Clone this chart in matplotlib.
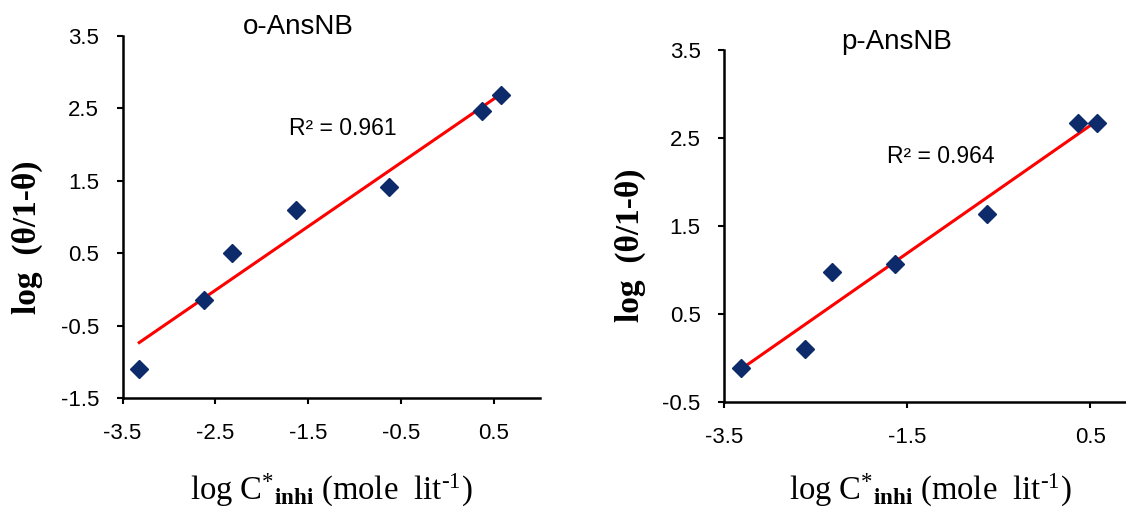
"""Langmuir-type plots of log(theta/1-theta) vs log C for o-AnsNB and p-AnsNB."""
import numpy as np
import matplotlib
matplotlib.use('Agg')
import matplotlib.pyplot as plt

plt.rcParams['font.family'] = ['Liberation Sans', 'DejaVu Sans']
plt.rcParams['mathtext.fontset'] = 'custom'
plt.rcParams['mathtext.rm'] = 'Liberation Serif'
plt.rcParams['mathtext.it'] = 'Liberation Serif:italic'
plt.rcParams['mathtext.bf'] = 'Liberation Serif:bold'

# Data
log_conc = [-3.32, -2.62, -2.32, -1.63, -0.63, 0.37, 0.58]
log_theta_o = [-1.10, -0.14, 0.50, 1.10, 1.41, 2.46, 2.68]
log_theta_p = [-0.12, 0.10, 0.97, 1.07, 1.64, 2.67, 2.67]
titles = ["o-AnsNB", "p-AnsNB"]
r2_labels = ["R² = 0.961", "R² = 0.964"]
yticks_o = [-1.5, -0.5, 0.5, 1.5, 2.5, 3.5]
yticks_p = [-0.5, 0.5, 1.5, 2.5, 3.5]
xticks_o = [-3.5, -2.5, -1.5, -0.5, 0.5]
xticks_p = [-3.5, -1.5, 0.5]

marker_color = '#0D2B6B'
line_color = '#FF0000'

fig = plt.figure(figsize=(11.26, 5.07), dpi=100)

# axes positions in figure fraction (left, bottom, width, height)
ax_o = fig.add_axes([0.1088, 0.2150, 0.3712, 0.7140])
ax_p = fig.add_axes([0.6433, 0.2077, 0.3655, 0.6937])

panels = [
    (ax_o, log_theta_o, yticks_o, xticks_o, (-1.5, 3.5), (-1.13, 2.22)),
    (ax_p, log_theta_p, yticks_p, xticks_p, (-0.5, 3.5), (-1.13, 2.29)),
]

for i, (ax, ys, yt, xt, ylim, r2pos) in enumerate(panels):
    x = np.array(log_conc)
    y = np.array(ys)
    ax.plot(x, y, 'D', color=marker_color, markersize=9, zorder=3)
    # linear trendline
    slope, intercept = np.polyfit(x, y, 1)
    xf = np.array([x.min(), x.max()])
    ax.plot(xf, slope * xf + intercept, color=line_color, linewidth=2.2, zorder=2)

    ax.set_xlim(-3.5, 1.0)
    ax.set_ylim(*ylim)
    ax.set_xticks(xt)
    ax.set_yticks(yt)
    ax.set_xticklabels([str(v) for v in xt], fontsize=16)
    ax.set_yticklabels([str(v) for v in yt], fontsize=16)
    ax.tick_params(axis='y', direction='out', length=4, width=1.5, pad=13)
    ax.tick_params(axis='x', direction='out', length=4, width=1.5, pad=14)
    for side in ['top', 'right']:
        ax.spines[side].set_visible(False)
    for side in ['left', 'bottom']:
        ax.spines[side].set_linewidth(1.8)
    ax.text(r2pos[0], r2pos[1], r2_labels[i], fontsize=16.5, ha='center', va='center')

# titles
fig.text(298 / 1126, 1 - 27 / 507, titles[0], fontsize=20, ha='center', va='center')
fig.text(897 / 1126, 1 - 42 / 507, titles[1], fontsize=20, ha='center', va='center')

# axis labels
ylab = "log  (\u03b8/1-\u03b8)"
xlab = r"log C$^{*}{}_{\mathbf{inhi}}$ (mole  lit$^{\text{-}1}$)"
fig.text(27 / 1126, 1 - 237 / 507, ylab, rotation=90, fontsize=24, fontweight='bold',
         family='Liberation Serif', ha='center', va='center')
fig.text(630 / 1126, 1 - 245 / 507, ylab, rotation=90, fontsize=24, fontweight='bold',
         family='Liberation Serif', ha='center', va='center')
fig.text(331 / 1126, 1 - 500 / 507, xlab, fontsize=23.5, family='Liberation Serif',
         ha='center', va='baseline')
fig.text(930 / 1126, 1 - 500 / 507, xlab, fontsize=23.5, family='Liberation Serif',
         ha='center', va='baseline')

plt.savefig("out.png", dpi=100)
plt.close()
print("Saved: out.png")
